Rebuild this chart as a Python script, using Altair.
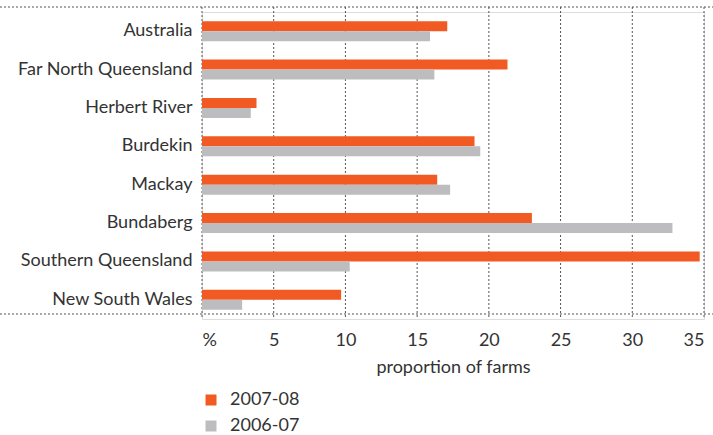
import altair as alt
import pandas as pd

regions = ["Australia", "Far North Queensland", "Herbert River", "Burdekin",
           "Mackay", "Bundaberg", "Southern Queensland", "New South Wales"]
v_2007_08 = [17.1, 21.3, 3.8, 19.0, 16.4, 23.0, 34.7, 9.7]
v_2006_07 = [15.9, 16.2, 3.4, 19.4, 17.3, 32.8, 10.3, 2.8]
series = ["2007-08", "2006-07"]
colors = ["#F15A22", "#BDBDC0"]
ticks = [0, 5, 10, 15, 20, 25, 30, 35]

rows = []
for r, a, b in zip(regions, v_2007_08, v_2006_07):
    rows.append({"region": r, "series": series[0], "value": a})
    rows.append({"region": r, "series": series[1], "value": b})
df = pd.DataFrame(rows)

FONT = "Lato"
TXT = "#333333"
FS = 18
xscale = alt.Scale(domain=[0, 35], nice=False, zero=True)

grid = alt.Chart(pd.DataFrame({"tick": ticks})).mark_rule(
    strokeDash=[2, 2], color="#555555", strokeWidth=1
).encode(
    x=alt.X("tick:Q", scale=xscale,
            axis=alt.Axis(values=ticks, grid=False, domain=False, ticks=False,
                          labelExpr="datum.value == 0 ? '%' : datum.label",
                          labelFontSize=FS, labelColor=TXT, labelFont=FONT, labelPadding=12,
                          title="proportion of farms", titleFontSize=FS, titleFont=FONT,
                          titleColor=TXT, titleFontWeight="normal", titlePadding=9)),
    y=alt.value(-5), y2=alt.value(305),
)

bars = alt.Chart(df).mark_bar().encode(
    y=alt.Y("region:N", sort=regions,
            scale=alt.Scale(paddingInner=0, paddingOuter=0),
            axis=alt.Axis(title=None, domain=False, ticks=False, labelFontSize=FS,
                          labelPadding=10, labelColor=TXT, labelFont=FONT)),
    x=alt.X("value:Q", scale=xscale, title="proportion of farms"),
    yOffset=alt.YOffset("series:N", sort=series,
                        scale=alt.Scale(paddingInner=0, paddingOuter=0.92)),
    color=alt.Color("series:N", sort=series,
                    scale=alt.Scale(domain=series, range=colors),
                    legend=alt.Legend(title=None, orient="none", legendX=0, legendY=379,
                                      symbolType="square", symbolSize=121,
                                      labelFontSize=FS, labelFont=FONT, labelColor=TXT,
                                      labelOffset=10, rowPadding=8, symbolStrokeWidth=0)),
)

one = pd.DataFrame({"a": [0]})
top_line = alt.Chart(one).mark_rule(strokeDash=[2, 2], color="#555555", strokeWidth=1).encode(
    x=alt.value(-202), x2=alt.value(511), y=alt.value(-5))
bottom_line = alt.Chart(one).mark_rule(strokeDash=[2, 2], color="#555555", strokeWidth=1).encode(
    x=alt.value(-202), x2=alt.value(511), y=alt.value(302))

chart = alt.layer(grid, bars, top_line, bottom_line).properties(
    width=502, height=307,
    padding={"left": 202, "top": 12, "right": 9, "bottom": 116},
    autosize=alt.AutoSizeParams(type="none"),
).configure_view(stroke=None).configure(font=FONT)

chart.save("out.html", embed_options={"renderer": "svg", "actions": False})
